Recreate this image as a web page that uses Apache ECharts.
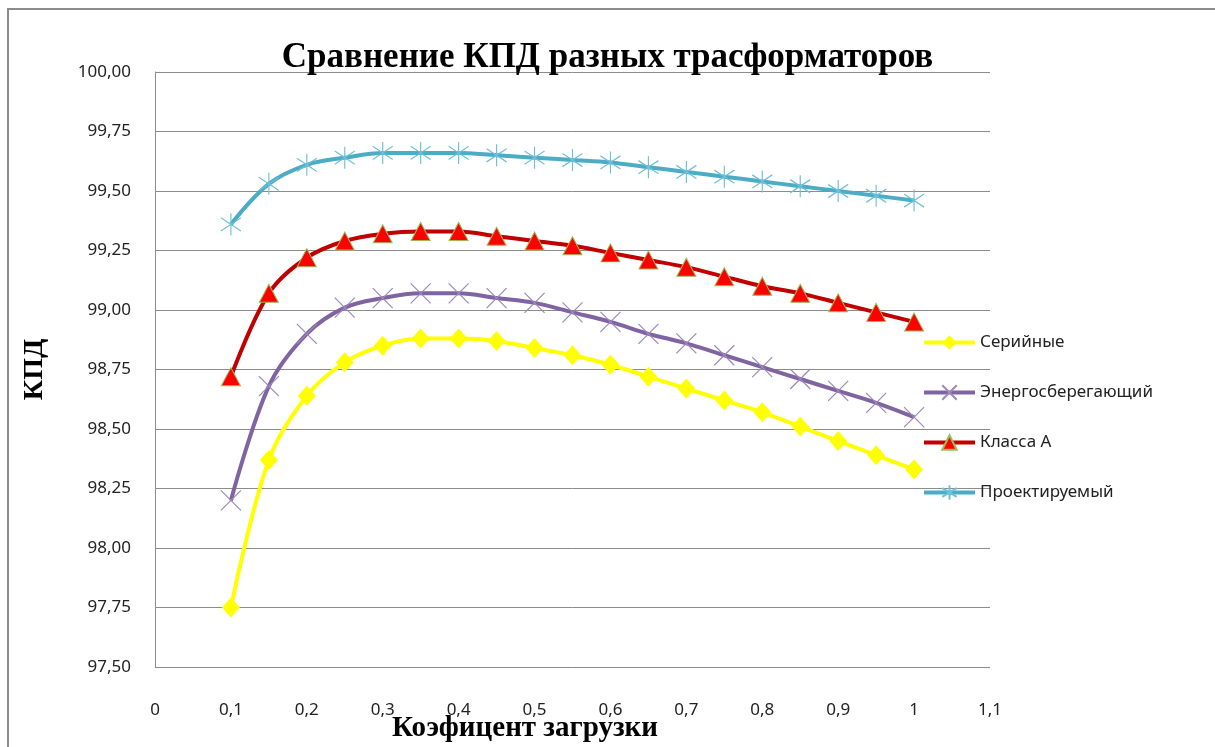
<!DOCTYPE html>
<html>
<head>
<meta charset="utf-8">
<title>Сравнение КПД</title>
<script src="https://cdn.jsdelivr.net/npm/echarts@6/dist/echarts.min.js"></script>
<style>
    html, body { margin: 0; padding: 0; background: #fff; }
    #chart { width: 1215px; height: 747px; }
</style>
</head>
<body>
<div id="chart"></div>
<script>
// load factor
const loads = [0.1, 0.15, 0.2, 0.25, 0.3, 0.35, 0.4, 0.45, 0.5, 0.55, 0.6, 0.65, 0.7, 0.75, 0.8, 0.85, 0.9, 0.95, 1];

const serial = [97.75, 98.37, 98.64, 98.78, 98.85, 98.88, 98.88, 98.87, 98.84, 98.81, 98.77, 98.72, 98.67, 98.62, 98.57, 98.51, 98.45, 98.39, 98.33];
const energySaving = [98.20, 98.68, 98.90, 99.01, 99.05, 99.07, 99.07, 99.05, 99.03, 98.99, 98.95, 98.90, 98.86, 98.81, 98.76, 98.71, 98.66, 98.61, 98.55];
const classA = [98.72, 99.07, 99.22, 99.29, 99.32, 99.33, 99.33, 99.31, 99.29, 99.27, 99.24, 99.21, 99.18, 99.14, 99.10, 99.07, 99.03, 98.99, 98.95];
const projected = [99.36, 99.53, 99.61, 99.64, 99.66, 99.66, 99.66, 99.65, 99.64, 99.63, 99.62, 99.60, 99.58, 99.56, 99.54, 99.52, 99.50, 99.48, 99.46];

const seriesNames = ['Серийные', 'Энергосберегающий', 'Класса А', 'Проектируемый'];

const pairs = (ys) => loads.map((x, i) => [x, ys[i]]);
const comma = (s) => s.replace('.', ',');

const crossPath = 'path://M0,0L10,10M10,0L0,10';
const starPath = 'path://M5,0L5,10M0,2L10,8M0,8L10,2';

const chart = echarts.init(document.getElementById('chart'));

chart.setOption({
    backgroundColor: '#fff',
    animation: false,
    title: {
        text: 'Сравнение КПД разных трасформаторов',
        left: 'center',
        top: 35,
        textStyle: { fontFamily: 'Liberation Serif', fontWeight: 'bold', fontSize: 35, color: '#000' }
    },
    legend: {
        orient: 'vertical',
        left: 917,
        top: 329,
        itemWidth: 51,
        itemHeight: 18,
        itemGap: 33,
        data: seriesNames,
        lineStyle: { width: 4 },
        textStyle: { fontFamily: 'Noto Sans', fontSize: 17, color: '#222' }
    },
    grid: { left: 155, right: 225, top: 72, bottom: 80, outerBoundsMode: 'none' },
    xAxis: {
        type: 'value',
        min: 0,
        max: 1.1,
        interval: 0.1,
        name: 'Коэфицент загрузки',
        nameLocation: 'middle',
        nameGap: 47,
        nameMoveOverlap: false,
        nameTextStyle: { fontFamily: 'Liberation Serif', fontWeight: 'bold', fontSize: 29, color: '#000', padding: [0, 95, 0, 0] },
        axisLine: { show: false },
        axisTick: { show: false },
        splitLine: { show: false },
        axisLabel: {
            margin: 35,
            fontFamily: 'Noto Sans',
            fontSize: 17,
            color: '#222',
            formatter: (v) => comma(String(Math.round(v * 10) / 10))
        }
    },
    yAxis: {
        type: 'value',
        min: 97.5,
        max: 100,
        interval: 0.25,
        name: 'КПД',
        nameLocation: 'middle',
        nameGap: 106,
        nameMoveOverlap: false,
        nameTextStyle: { fontFamily: 'Liberation Serif', fontWeight: 'bold', fontSize: 28, color: '#000' },
        axisLine: { show: true, lineStyle: { color: '#8c8c8c', width: 1 } },
        axisTick: { show: false },
        splitLine: { lineStyle: { color: '#8c8c8c', width: 1 } },
        axisLabel: {
            margin: 24,
            fontFamily: 'Noto Sans',
            fontSize: 17,
            color: '#222',
            formatter: (v) => comma(v.toFixed(2))
        }
    },
    graphic: [{
        type: 'rect',
        shape: { x: 8, y: 9, width: 1300, height: 900 },
        style: { fill: 'none', stroke: '#8c8c8c', lineWidth: 2 },
        silent: true
    }],
    series: [
        {
            name: seriesNames[0],
            type: 'line',
            smooth: 0.35,
            data: pairs(serial),
            symbol: 'diamond',
            symbolSize: [18, 20],
            lineStyle: { color: '#FFFF00', width: 4 },
            itemStyle: { color: '#FFFF00' }
        },
        {
            name: seriesNames[1],
            type: 'line',
            smooth: 0.35,
            data: pairs(energySaving),
            symbol: crossPath,
            symbolSize: 20,
            lineStyle: { color: '#8064A2', width: 4 },
            itemStyle: { color: 'transparent', borderColor: '#9C88BC', borderWidth: 1.2 }
        },
        {
            name: seriesNames[2],
            type: 'line',
            smooth: 0.35,
            data: pairs(classA),
            symbol: 'triangle',
            symbolSize: [19, 18],
            lineStyle: { color: '#C00000', width: 4 },
            itemStyle: { color: '#FF0000', borderColor: '#9BBB59', borderWidth: 1 }
        },
        {
            name: seriesNames[3],
            type: 'line',
            smooth: 0.35,
            data: pairs(projected),
            symbol: starPath,
            symbolSize: [20, 22],
            lineStyle: { color: '#4BACC6', width: 4 },
            itemStyle: { color: 'transparent', borderColor: '#6DC0D8', borderWidth: 1.2 }
        }
    ]
});
</script>
</body>
</html>
